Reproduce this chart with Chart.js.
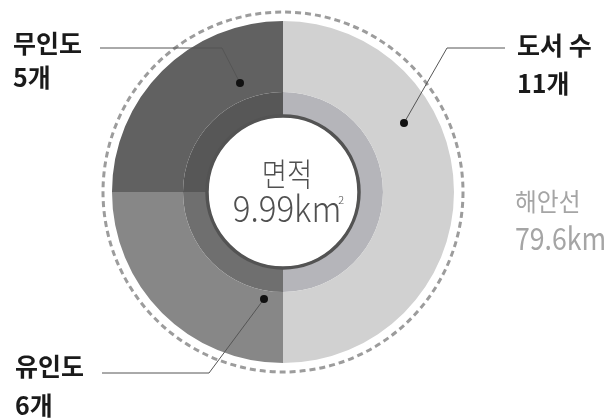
<!DOCTYPE html>
<html>
<head>
<meta charset="utf-8">
<script src="https://cdn.jsdelivr.net/npm/chart.js@4.4.1/dist/chart.umd.min.js"></script>
<style>
    body { margin: 0; background: #fff; }
    #wrap { width: 606px; height: 419px; position: relative; }
</style>
</head>
<body>
<div id="wrap"><canvas id="islandChart"></canvas></div>
<script>
// 섬 구성 (도서 수 = 유인도 + 무인도)
const categories = ['도서 수', '유인도', '무인도']
const islandCounts = [11, 6, 5]
// angular share of each slice as drawn in the original (right half / two quarters)
const sliceShare = [2, 1, 1]
const areaValue = '9.99'
const coastValue = '79.6'

const outerColors = ['#d1d1d1', '#878787', '#616161']
const innerColors = ['#b5b5ba', '#6f6f6f', '#575757']

const FONT = '"Noto Sans CJK KR", "Noto Sans", sans-serif'

// callout geometry, relative to the chart centre
const callouts = [
    { idx: 2, textX: -270, base1: -139, base2: -105, path: [[-183, -144], [-61, -144], [-43, -109]] },
    { idx: 0, textX: 234, base1: -137, base2: -99, path: [[222, -144], [164, -144], [121, -69]] },
    { idx: 1, textX: -268, base1: 184, base2: 223, path: [[-181, 181], [-74, 181], [-19, 107]] }
]

const decorPlugin = {
    id: 'decor',
    afterDatasetsDraw(chart) {
        const ctx = chart.ctx
        const outer = chart.getDatasetMeta(0).data[0]
        const inner = chart.getDatasetMeta(1).data[0]
        const cx = outer.x, cy = outer.y
        const R = outer.outerRadius
        const r0 = inner.innerRadius

        ctx.save()
        // dashed outline
        ctx.setLineDash([6, 4])
        ctx.lineWidth = 3
        ctx.strokeStyle = '#9c9c9c'
        ctx.beginPath()
        ctx.arc(cx, cy, R + 9, 0, Math.PI * 2)
        ctx.stroke()
        ctx.setLineDash([])

        // ring around the centre hole
        ctx.lineWidth = 3.5
        ctx.strokeStyle = '#535353'
        ctx.beginPath()
        ctx.arc(cx, cy, r0 + 1, 0, Math.PI * 2)
        ctx.stroke()

        // leader lines + labels
        callouts.forEach(c => {
            ctx.strokeStyle = '#555'
            ctx.lineWidth = 1
            ctx.beginPath()
            c.path.forEach((p, i) => {
                if (i === 0) ctx.moveTo(cx + p[0], cy + p[1])
                else ctx.lineTo(cx + p[0], cy + p[1])
            })
            ctx.stroke()
            const end = c.path[c.path.length - 1]
            ctx.fillStyle = '#111'
            ctx.beginPath()
            ctx.arc(cx + end[0], cy + end[1], 4, 0, Math.PI * 2)
            ctx.fill()

            ctx.fillStyle = '#1a1a1a'
            ctx.textAlign = 'left'
            ctx.textBaseline = 'alphabetic'
            ctx.font = '700 25px ' + FONT
            ctx.fillText(categories[c.idx], cx + c.textX, cy + c.base1)
            ctx.fillText(islandCounts[c.idx] + '개', cx + c.textX, cy + c.base2)
        })

        // centre text
        ctx.fillStyle = '#505050'
        ctx.textAlign = 'center'
        ctx.save()
        ctx.translate(cx + 4, cy - 6)
        ctx.scale(0.86, 1)
        ctx.font = '300 32px ' + FONT
        ctx.fillText('면적', 0, 0)
        ctx.restore()
        ctx.textAlign = 'left'
        ctx.save()
        ctx.font = '300 36px ' + FONT
        const areaText = areaValue + 'km'
        const w = ctx.measureText(areaText).width * 0.92
        const ax = cx + 4 - w / 2
        ctx.translate(ax, cy + 30)
        ctx.scale(0.92, 1)
        ctx.fillText(areaText, 0, 0)
        ctx.restore()
        ctx.font = '300 11px ' + FONT
        ctx.fillText('2', ax + w - 3, cy + 12)

        // coastline
        ctx.fillStyle = '#a5a5a5'
        ctx.save()
        ctx.translate(cx + 232, cy + 19)
        ctx.scale(0.95, 1)
        ctx.font = '400 25px ' + FONT
        ctx.fillText('해안선', 0, 0)
        ctx.restore()
        ctx.save()
        ctx.translate(cx + 232, cy + 58)
        ctx.scale(0.86, 1)
        ctx.font = '400 31px ' + FONT
        ctx.fillText(coastValue + 'km', 0, 0)
        ctx.restore()
        ctx.restore()
    }
}

document.addEventListener('DOMContentLoaded', function () {
    const ctx = document.getElementById('islandChart').getContext('2d')
    new Chart(ctx, {
        type: 'doughnut',
        data: {
            labels: categories,
            datasets: [{
                data: sliceShare,
                backgroundColor: outerColors,
                borderWidth: 0,
                weight: 71
            }, {
                data: sliceShare,
                backgroundColor: innerColors,
                borderWidth: 0,
                weight: 25
            }]
        },
        options: {
            responsive: true,
            maintainAspectRatio: false,
            animation: false,
            cutout: 75,
            layout: {
                padding: { left: 112, right: 152, top: 21, bottom: 56 }
            },
            plugins: {
                legend: { display: false },
                tooltip: { enabled: false }
            },
            hoverOffset: 0
        },
        plugins: [decorPlugin]
    })
})
</script>
</body>
</html>
